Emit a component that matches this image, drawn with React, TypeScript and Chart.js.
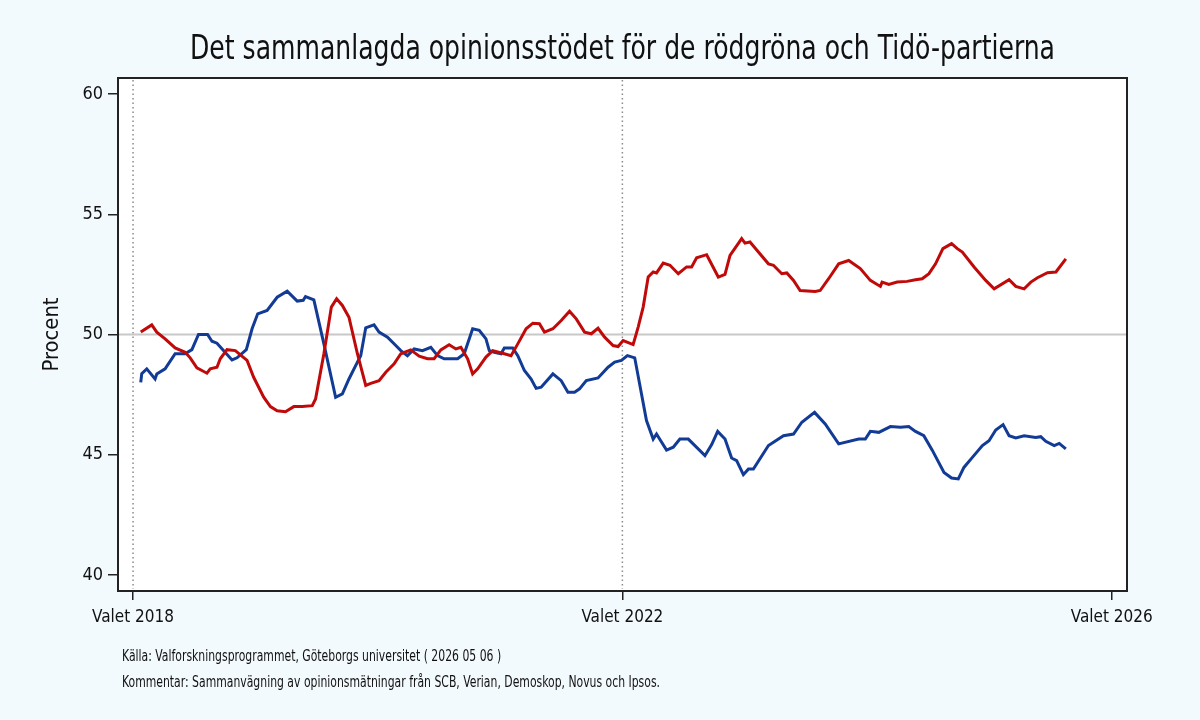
import React, { useEffect, useRef } from "react";
import { Chart, registerables } from "chart.js";

Chart.register(...registerables);

const TITLE = "Det sammanlagda opinionsstödet för de rödgröna och Tidö-partierna";
const Y_TITLE = "Procent";
const FOOT_SOURCE = "Källa: Valforskningsprogrammet, Göteborgs universitet ( 2026 05 06 )";
const FOOT_NOTE = "Kommentar: Sammanvägning av opinionsmätningar från SCB, Verian, Demoskop, Novus och Ipsos.";

const ELECTIONS = [2018.7, 2022.7, 2026.7];
const ELECTION_LABELS = ["Valet 2018", "Valet 2022", "Valet 2026"];
const Y_TICKS = [40, 45, 50, 55, 60];

const redX = [
  2018.763, 2018.853, 2018.894, 2018.962, 2019.044, 2019.126, 2019.167, 2019.222, 2019.304, 2019.331,
  2019.386, 2019.413, 2019.468, 2019.536, 2019.632, 2019.686, 2019.768, 2019.823, 2019.878, 2019.946,
  2020.014, 2020.083, 2020.165, 2020.192, 2020.26, 2020.321, 2020.364, 2020.411, 2020.465, 2020.534,
  2020.602, 2020.643, 2020.711, 2020.766, 2020.834, 2020.889, 2020.97, 2021.039, 2021.107, 2021.161,
  2021.216, 2021.284, 2021.339, 2021.38, 2021.435, 2021.476, 2021.517, 2021.585, 2021.64, 2021.735,
  2021.79, 2021.845, 2021.913, 2021.968, 2022.022, 2022.063, 2022.132, 2022.2, 2022.268, 2022.323,
  2022.391, 2022.446, 2022.501, 2022.555, 2022.624, 2022.665, 2022.706, 2022.788, 2022.829, 2022.87,
  2022.911, 2022.952, 2022.979, 2023.034, 2023.089, 2023.157, 2023.225, 2023.266, 2023.307, 2023.389,
  2023.484, 2023.539, 2023.58, 2023.675, 2023.702, 2023.743, 2023.812, 2023.894, 2023.935, 2024.003,
  2024.044, 2024.099, 2024.153, 2024.276, 2024.317, 2024.386, 2024.468, 2024.55, 2024.645, 2024.727,
  2024.809, 2024.823, 2024.878, 2024.946, 2025.028, 2025.096, 2025.151, 2025.206, 2025.26, 2025.32,
  2025.391, 2025.438, 2025.479, 2025.575, 2025.67, 2025.739, 2025.861, 2025.916, 2025.984, 2026.039,
  2026.093, 2026.175, 2026.244, 2026.325,
];
const redY = [
  50.1, 50.4, 50.1, 49.82, 49.44, 49.26, 49.03, 48.61, 48.39, 48.57,
  48.64, 48.99, 49.37, 49.33, 48.92, 48.22, 47.39, 47.0, 46.83, 46.79,
  47.0, 47.0, 47.04, 47.32, 49.2, 51.14, 51.49, 51.21, 50.72, 49.2,
  47.88, 47.97, 48.08, 48.43, 48.78, 49.2, 49.36, 49.1, 48.99, 48.99,
  49.36, 49.57, 49.4, 49.47, 48.99, 48.36, 48.57, 49.06, 49.33, 49.2,
  49.12, 49.61, 50.24, 50.47, 50.45, 50.1, 50.24, 50.58, 50.97, 50.65,
  50.1, 50.03, 50.26, 49.89, 49.54, 49.5, 49.75, 49.58, 50.31, 51.14,
  52.39, 52.6, 52.56, 52.97, 52.88, 52.53, 52.81, 52.81, 53.19, 53.32,
  52.39, 52.5, 53.29, 53.99, 53.8, 53.85, 53.43, 52.94, 52.88, 52.53,
  52.56, 52.25, 51.83, 51.79, 51.83, 52.32, 52.94, 53.08, 52.74, 52.25,
  52.0, 52.18, 52.08, 52.18, 52.21, 52.28, 52.32, 52.53, 52.94, 53.57,
  53.78, 53.57, 53.43, 52.81, 52.25, 51.9, 52.28, 52.0, 51.9, 52.18,
  52.36, 52.57, 52.6, 53.15,
];

const blueX = [
  2018.763, 2018.771, 2018.812, 2018.88, 2018.894, 2018.962, 2019.044, 2019.126, 2019.181, 2019.235,
  2019.309, 2019.345, 2019.386, 2019.509, 2019.55, 2019.626, 2019.673, 2019.719, 2019.796, 2019.878,
  2019.96, 2020.042, 2020.091, 2020.11, 2020.178, 2020.26, 2020.356, 2020.411, 2020.465, 2020.534,
  2020.561, 2020.602, 2020.67, 2020.711, 2020.78, 2020.848, 2020.889, 2020.943, 2020.998, 2021.066,
  2021.134, 2021.189, 2021.243, 2021.353, 2021.407, 2021.476, 2021.53, 2021.585, 2021.612, 2021.653,
  2021.708, 2021.735, 2021.804, 2021.845, 2021.899, 2021.954, 2021.995, 2022.036, 2022.132, 2022.2,
  2022.255, 2022.309, 2022.35, 2022.405, 2022.501, 2022.583, 2022.637, 2022.692, 2022.741, 2022.801,
  2022.897, 2022.952, 2022.979, 2023.061, 2023.116, 2023.17, 2023.239, 2023.375, 2023.43, 2023.479,
  2023.539, 2023.593, 2023.634, 2023.689, 2023.73, 2023.771, 2023.894, 2024.017, 2024.099, 2024.167,
  2024.271, 2024.358, 2024.468, 2024.632, 2024.686, 2024.727, 2024.796, 2024.891, 2024.973, 2025.041,
  2025.096, 2025.164, 2025.233, 2025.329, 2025.391, 2025.446, 2025.492, 2025.561, 2025.643, 2025.697,
  2025.752, 2025.812, 2025.861, 2025.916, 2025.984, 2026.079, 2026.12, 2026.161, 2026.23, 2026.271,
  2026.325,
];
const blueY = [
  48.01, 48.37, 48.57, 48.15, 48.36, 48.57, 49.2, 49.2, 49.37, 50.0,
  50.0, 49.72, 49.64, 48.94, 49.03, 49.37, 50.24, 50.86, 51.0, 51.55,
  51.8, 51.39, 51.42, 51.58, 51.44, 49.61, 47.39, 47.53, 48.15, 48.85,
  49.12, 50.28, 50.4, 50.1, 49.89, 49.54, 49.33, 49.12, 49.4, 49.33,
  49.47, 49.12, 48.99, 48.99, 49.2, 50.24, 50.17, 49.82, 49.33, 49.26,
  49.2, 49.44, 49.44, 49.12, 48.5, 48.15, 47.76, 47.81, 48.36, 48.08,
  47.6, 47.6, 47.74, 48.08, 48.19, 48.64, 48.85, 48.92, 49.12, 49.03,
  46.42, 45.65, 45.86, 45.19, 45.31, 45.65, 45.65, 44.96, 45.42, 45.97,
  45.65, 44.86, 44.75, 44.17, 44.4, 44.4, 45.38, 45.79, 45.86, 46.35,
  46.76, 46.28, 45.45, 45.65, 45.65, 45.97, 45.93, 46.17, 46.14, 46.17,
  45.97, 45.79, 45.19, 44.26, 44.03, 43.99, 44.47, 44.89, 45.38, 45.58,
  46.03, 46.25, 45.79, 45.7, 45.79, 45.72, 45.75, 45.56, 45.38, 45.47,
  45.24,
];

const FONT = "'Liberation Sans Narrow', 'DejaVu Sans Condensed', 'Arial Narrow', sans-serif";
const BG = "#f3fafd";
const RED = "#c00a0a";
const BLUE = "#123b96";

function fitText(ctx: CanvasRenderingContext2D, text: string, x: number, y: number, width: number, align: "left" | "center") {
  const w = ctx.measureText(text).width;
  const k = width / w;
  ctx.save();
  ctx.translate(x, y);
  ctx.scale(k, 1);
  ctx.textAlign = align;
  ctx.fillText(text, 0, 0);
  ctx.restore();
}

export default function App() {
  const ref = useRef<HTMLCanvasElement | null>(null);

  useEffect(() => {
    if (!ref.current) return;
    const decor = {
      id: "decor",
      beforeDraw(chart: any) {
        const { ctx, chartArea: a } = chart;
        ctx.save();
        ctx.fillStyle = BG;
        ctx.fillRect(0, 0, chart.width, chart.height);
        ctx.fillStyle = "#ffffff";
        ctx.fillRect(a.left, a.top, a.right - a.left, a.bottom - a.top);
        ctx.restore();
      },
      beforeDatasetsDraw(chart: any) {
        const { ctx, chartArea: a, scales } = chart;
        ctx.save();
        ctx.strokeStyle = "#8c8c8c";
        ctx.lineWidth = 1.5;
        ctx.setLineDash([1.5, 3]);
        ELECTIONS.slice(0, 2).forEach((v) => {
          const x = scales.x.getPixelForValue(v);
          ctx.beginPath();
          ctx.moveTo(x, a.top + 2);
          ctx.lineTo(x, a.bottom - 2);
          ctx.stroke();
        });
        ctx.setLineDash([]);
        ctx.strokeStyle = "#c8c8c8";
        ctx.lineWidth = 2;
        const y50 = scales.y.getPixelForValue(50);
        ctx.beginPath();
        ctx.moveTo(a.left, y50);
        ctx.lineTo(a.right, y50);
        ctx.stroke();
        ctx.restore();
      },
      afterDraw(chart: any) {
        const { ctx, chartArea: a } = chart;
        ctx.save();
        ctx.strokeStyle = "#222222";
        ctx.lineWidth = 2;
        ctx.strokeRect(a.left, a.top, a.right - a.left, a.bottom - a.top);
        ctx.fillStyle = "#111111";
        ctx.textBaseline = "middle";
        ctx.font = `33px ${FONT}`;
        fitText(ctx, TITLE, (a.left + a.right) / 2, 50, 865, "center");
        ctx.save();
        ctx.translate(52, (a.top + a.bottom) / 2);
        ctx.rotate(-Math.PI / 2);
        ctx.font = `22px ${FONT}`;
        fitText(ctx, Y_TITLE, 0, 0, 74, "center");
        ctx.restore();
        ctx.font = `15px ${FONT}`;
        const kW = ctx.measureText(FOOT_NOTE).width;
        const k = 538 / kW;
        fitText(ctx, FOOT_SOURCE, 122, 657, ctx.measureText(FOOT_SOURCE).width * k, "left");
        fitText(ctx, FOOT_NOTE, 122, 683, 538, "left");
        ctx.restore();
      },
    };

    const chart = new Chart(ref.current, {
      type: "line",
      data: {
        datasets: [
          {
            label: "Rödgröna",
            data: redX.map((x, i) => ({ x, y: redY[i] })),
            borderColor: RED,
            borderWidth: 3,
            pointRadius: 0,
            tension: 0,
          },
          {
            label: "Tidö",
            data: blueX.map((x, i) => ({ x, y: blueY[i] })),
            borderColor: BLUE,
            borderWidth: 3,
            pointRadius: 0,
            tension: 0,
          },
        ],
      },
      options: {
        animation: false,
        responsive: false,
        devicePixelRatio: 1,
        layout: { padding: { top: 78, right: 73, bottom: 89, left: 0 } },
        plugins: { legend: { display: false }, tooltip: { enabled: false }, title: { display: false } },
        scales: {
          x: {
            type: "linear",
            min: 2018.577,
            max: 2026.825,
            afterFit: (s: any) => { s.height = 40; },
            afterBuildTicks: (s: any) => { s.ticks = ELECTIONS.map((v) => ({ value: v })); },
            ticks: {
              color: "#111",
              font: { family: FONT, size: 17 },
              padding: 7,
              maxRotation: 0,
              autoSkip: false,
              callback: (v: any) => {
                const i = ELECTIONS.findIndex((e) => Math.abs(e - Number(v)) < 1e-6);
                return i >= 0 ? ELECTION_LABELS[i] : "";
              },
            },
            grid: { drawOnChartArea: false, drawTicks: true, tickLength: 9, color: "#222", lineWidth: 1.5 },
            border: { display: false },
          },
          y: {
            type: "linear",
            min: 39.33,
            max: 60.67,
            afterFit: (s: any) => { s.width = 118; },
            afterBuildTicks: (s: any) => { s.ticks = Y_TICKS.map((v) => ({ value: v })); },
            ticks: {
              color: "#111",
              font: { family: FONT, size: 18 },
              padding: 5,
            },
            grid: { drawOnChartArea: false, drawTicks: true, tickLength: 10, color: "#222", lineWidth: 1.5 },
            border: { display: false },
          },
        },
      },
      plugins: [decor],
    });
    return () => chart.destroy();
  }, []);

  return (
    <div style={{ position: "fixed", left: 0, top: 0, width: 1200, height: 720, background: BG }}>
      <canvas ref={ref} width={1200} height={720} style={{ width: 1200, height: 720, display: "block" }} />
    </div>
  );
}
